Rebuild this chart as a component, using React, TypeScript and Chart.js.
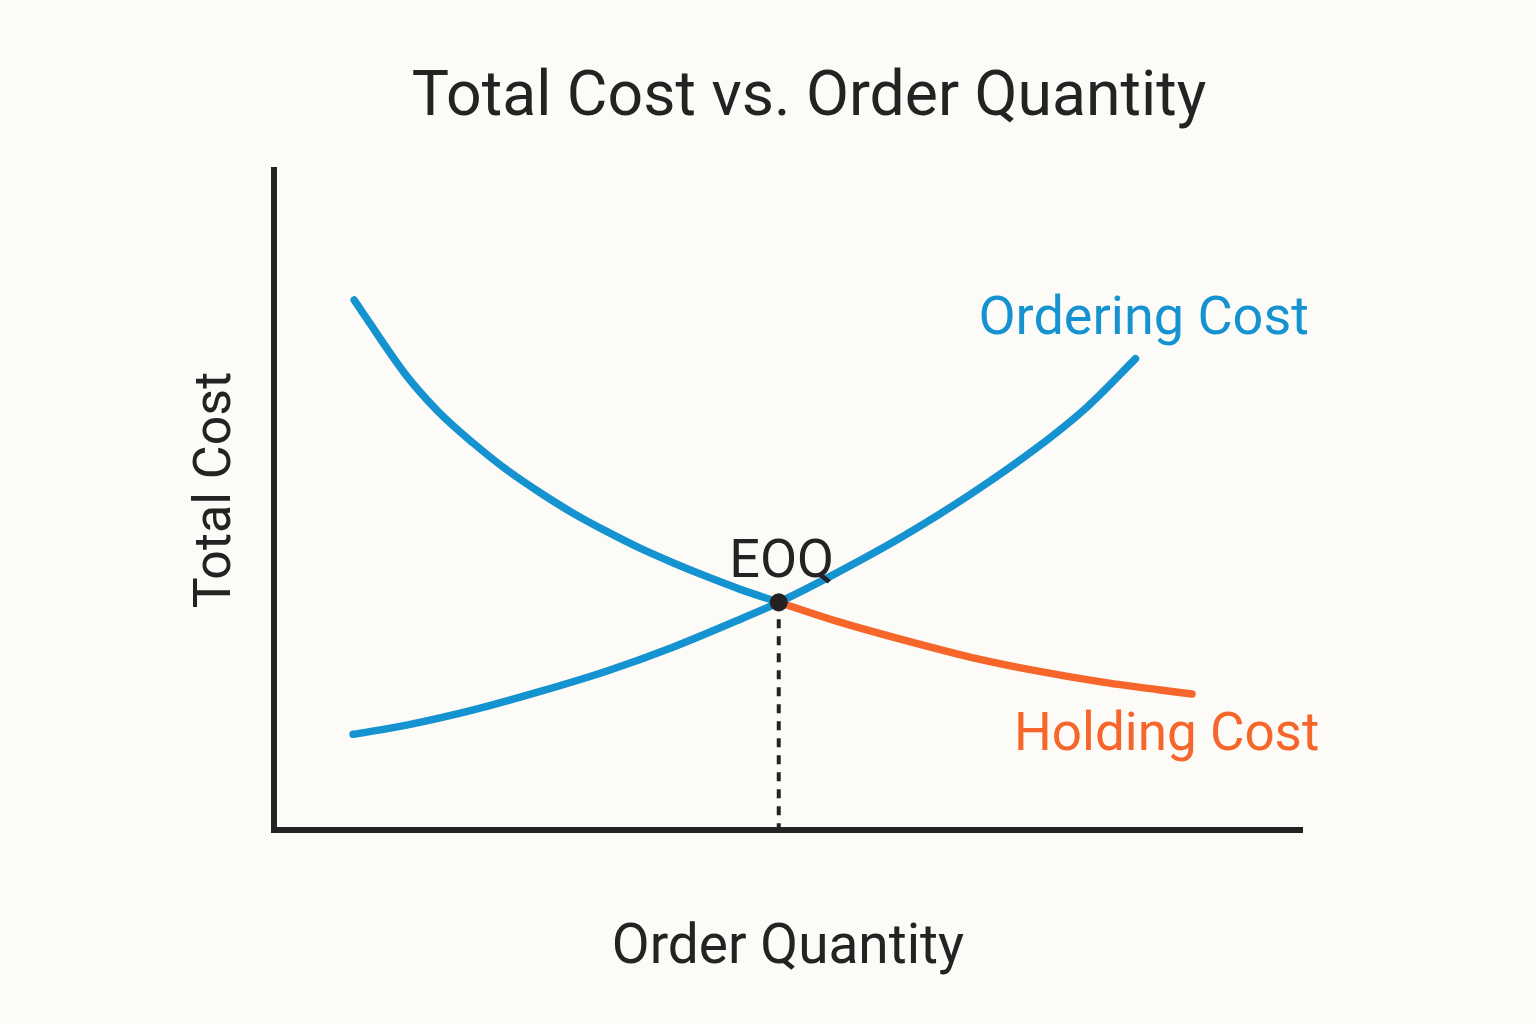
import React, { useEffect, useRef } from "react";
import { Chart, registerables } from "chart.js";

Chart.register(...registerables);

const BG = "#fcfbf7";
const BLUE = "#1593d1";
const ORANGE = "#f6662a";
const INK = "#232323";
const FONT = "Roboto, 'Liberation Sans', sans-serif";

// Order quantity (x) and cost (y), arbitrary units on a 0–100 scale
const decliningQty = [7.8, 12.9, 16.1, 19.4, 22.7, 25.9, 29.1, 32.4, 35.6, 38.8, 42.1, 45.3, 49.1];
const decliningCost = [80.3, 68.8, 63.2, 58.6, 54.5, 51.1, 48.0, 45.2, 42.7, 40.5, 38.4, 36.5, 34.5];

const holdingQty = [49.1, 54.8, 61.2, 67.7, 74.2, 80.6, 89.3];
const holdingCost = [34.5, 31.6, 28.8, 26.2, 24.1, 22.4, 20.6];

const orderingQty = [7.7, 12.9, 19.4, 25.9, 32.4, 38.8, 45.3, 49.1, 54.8, 61.2, 67.7, 74.2, 79.1, 83.8];
const orderingCost = [14.5, 15.9, 18.2, 21.0, 24.1, 27.7, 31.9, 34.5, 39.0, 44.5, 50.8, 57.9, 64.1, 71.4];

const eoqQty = 49.1;
const eoqCost = 34.5;

const TITLE = "Total Cost vs. Order Quantity";
const X_TITLE = "Order Quantity";
const Y_TITLE = "Total Cost";
const ORDERING_LABEL = "Ordering Cost";
const HOLDING_LABEL = "Holding Cost";
const EOQ_LABEL = "EOQ";

const zip = (xs: number[], ys: number[]) => xs.map((x, i) => ({ x, y: ys[i] }));

const bgPlugin = {
  id: "bg",
  beforeDraw(chart: any) {
    const { ctx, width, height } = chart;
    ctx.save();
    ctx.fillStyle = BG;
    ctx.fillRect(0, 0, width, height);
    ctx.restore();
  },
};

const labelPlugin = {
  id: "curveLabels",
  afterDatasetsDraw(chart: any) {
    const { ctx, chartArea, scales } = chart;
    const x = scales.x;
    const y = scales.y;
    ctx.save();
    ctx.textBaseline = "alphabetic";

    // Y axis title
    ctx.save();
    ctx.fillStyle = INK;
    ctx.font = `400 52px ${FONT}`;
    ctx.textAlign = "center";
    ctx.translate(chartArea.left - 44, (chartArea.top + chartArea.bottom) / 2 - 10);
    ctx.rotate(-Math.PI / 2);
    ctx.fillText(Y_TITLE, 0, 0);
    ctx.restore();

    // EOQ label
    const ex = x.getPixelForValue(eoqQty);
    const ey = y.getPixelForValue(eoqCost);
    ctx.fillStyle = INK;
    ctx.font = `400 54px ${FONT}`;
    ctx.textAlign = "center";
    ctx.fillText(EOQ_LABEL, ex + 3, ey - 25);

    // Ordering cost label (near end of rising curve)
    const ox = x.getPixelForValue(orderingQty[orderingQty.length - 1]);
    const oy = y.getPixelForValue(orderingCost[orderingCost.length - 1]);
    ctx.fillStyle = BLUE;
    ctx.font = `400 54px ${FONT}`;
    ctx.textAlign = "left";
    ctx.fillText(ORDERING_LABEL, ox - 157, oy - 25);

    // Holding cost label (below end of falling curve)
    const hx = x.getPixelForValue(holdingQty[holdingQty.length - 1]);
    const hy = y.getPixelForValue(holdingCost[holdingCost.length - 1]);
    ctx.fillStyle = ORANGE;
    ctx.font = `400 53px ${FONT}`;
    ctx.fillText(HOLDING_LABEL, hx - 178, hy + 56);

    ctx.restore();
  },
};

const curveStyle = {
  borderWidth: 7.5,
  borderCapStyle: "round",
  borderJoinStyle: "round",
  cubicInterpolationMode: "monotone",
  pointRadius: 0,
};

export default function App() {
  const ref = useRef<HTMLCanvasElement | null>(null);

  useEffect(() => {
    document.body.style.margin = "0";
    document.body.style.background = BG;
    if (!ref.current) return;
    const chart = new Chart(ref.current, {
      type: "line",
      data: {
        datasets: [
          {
            label: "EOQ",
            data: [{ x: eoqQty, y: eoqCost }],
            showLine: false,
            pointRadius: 9,
            pointBackgroundColor: INK,
            pointBorderWidth: 0,
            order: 0,
          },
          {
            label: "EOQ guide",
            data: [
              { x: eoqQty, y: eoqCost },
              { x: eoqQty, y: 0 },
            ],
            borderColor: INK,
            borderWidth: 4,
            borderDash: [9, 8],
            pointRadius: 0,
            order: 1,
          },
          {
            label: "Ordering Cost",
            data: zip(orderingQty, orderingCost),
            borderColor: BLUE,
            ...curveStyle,
            order: 2,
          },
          {
            label: "Declining cost",
            data: zip(decliningQty, decliningCost),
            borderColor: BLUE,
            ...curveStyle,
            order: 3,
          },
          {
            label: "Holding Cost",
            data: zip(holdingQty, holdingCost),
            borderColor: ORANGE,
            ...curveStyle,
            order: 4,
          },
        ],
      },
      options: {
        responsive: false,
        animation: false,
        layout: { padding: { left: 82, right: 0, top: 0, bottom: 0 } },
        plugins: {
          legend: { display: false },
          tooltip: { enabled: false },
          title: {
            display: true,
            text: TITLE,
            color: INK,
            font: { family: FONT, size: 62.5, weight: "400", lineHeight: 1 },
            padding: { top: 68, bottom: 39.5 },
          },
        },
        scales: {
          x: {
            type: "linear",
            min: 0,
            max: 100,
            grid: { display: false },
            ticks: { display: false },
            border: { display: true, color: INK, width: 6 },
            title: {
              display: true,
              text: X_TITLE,
              color: INK,
              font: { family: FONT, size: 55, weight: "400", lineHeight: 1 },
              padding: { top: 0, bottom: 47 },
            },
            afterFit(scale: any) {
              scale.height = 194;
            },
          },
          y: {
            type: "linear",
            min: 0,
            max: 100,
            grid: { display: false },
            ticks: { display: false },
            border: { display: true, color: INK, width: 6 },
            afterFit(scale: any) {
              scale.width = 192;
            },
          },
          y2: {
            type: "linear",
            position: "right",
            display: true,
            grid: { display: false },
            ticks: { display: false },
            border: { display: false },
            afterFit(scale: any) {
              scale.width = 234;
            },
          },
        },
      },
      plugins: [bgPlugin, labelPlugin],
    } as any);
    return () => chart.destroy();
  }, []);

  return (
    <div style={{ position: "absolute", left: 0, top: 0, width: 1536, height: 1024, background: BG }}>
      <canvas ref={ref} width={1536} height={1024} />
    </div>
  );
}
